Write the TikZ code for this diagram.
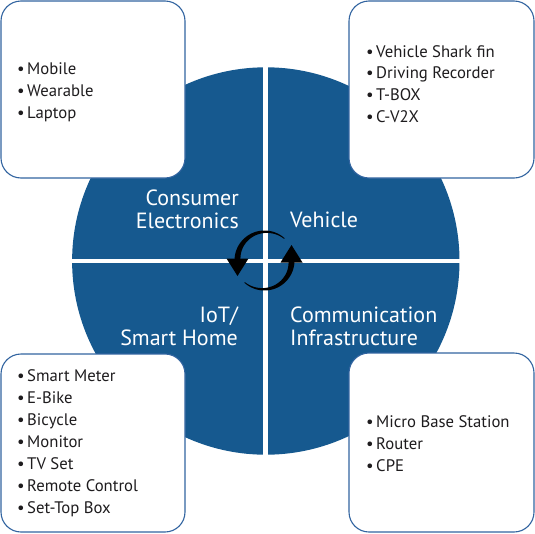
\documentclass[tikz,border=0pt]{standalone}
\usepackage{fontspec}
\setmainfont{PT Sans}
\definecolor{disc}{RGB}{22,89,143}
\definecolor{boxline}{RGB}{50,100,160}
\definecolor{txt}{RGB}{30,28,30}
\begin{document}
\begin{tikzpicture}[x=1pt,y=-1pt,
  card/.style={draw=boxline, line width=1.1pt, fill=white, rounded corners=20pt},
  item/.style={anchor=base west, inner sep=0pt, text=txt, font=\fontsize{16.7}{22}\selectfont},
  quadl/.style={anchor=base east, inner sep=0pt, text=white, font=\fontsize{22}{25}\selectfont},
  quadr/.style={anchor=base west, inner sep=0pt, text=white, font=\fontsize{22}{25}\selectfont},
  gap/.style={draw=white, line width=4.5pt}]
\useasboundingbox (0,0) rectangle (535,533);
% disc
\fill[disc] (265.8,261) circle[radius=193.7pt];
\draw[gap] (265.5,60) -- (265.5,462);
\draw[gap] (66,261) -- (466,261);
% rotation arrows
\foreach \r in {0,180}{
\begin{scope}[rotate around={\r:(264.5,260.5)}]
\fill[black] plot[domain=312:182, samples=40, variable=\a] ({264.5+30*cos(\a)}, {260.5+30*sin(\a)})
  -- plot[domain=182:312, samples=40, variable=\a] ({264.5+(29.2-5.2*(312-\a)/130)*cos(\a)}, {260.5+(29.2-5.2*(312-\a)/130)*sin(\a)}) -- cycle;
\fill[black] (226.5,258.5) -- (248.5,258.5) -- (237.5,276) -- cycle;
\end{scope}}
% quadrant labels
\node[quadl] (ce1) at (239,205) {Consumer};
\node[quadl] (ce2) at (239,228) {Electronics};
\node[quadr] (veh) at (290,227) {Vehicle};
\node[quadl] (io1) at (238,322) {IoT/};
\node[quadl] (io2) at (238,345) {Smart Home};
\node[quadr] (ci1) at (290,322) {Communication};
\node[quadr] (ci2) at (290,345) {Infrastructure};
% cards
\draw[card] (1,1) rectangle (185,178);
\draw[card] (349,1) rectangle (534,178);
\draw[card] (1,354) rectangle (185,532);
\draw[card] (349,353) rectangle (534,532);
% items
\foreach \t [count=\i] in {Mobile,Wearable,Laptop}
  \node[item] (tl\i) at (17,{74+22*(\i-1)}) {•\kern2.5pt\t};
\foreach \t [count=\i] in {Vehicle Shark fin,Driving Recorder,T-BOX,C-V2X}
  \node[item] (tr\i) at (366,{57+21.7*(\i-1)}) {•\kern2.5pt\t};
\foreach \t [count=\i] in {Smart Meter,E-Bike,Bicycle,Monitor,TV Set,Remote Control,Set-Top Box}
  \node[item] (bl\i) at (17,{381.7+21.9*(\i-1)}) {•\kern2.5pt\t};
\foreach \t [count=\i] in {Micro Base Station,Router,CPE}
  \node[item] (br\i) at (366,{427.7+22*(\i-1)}) {•\kern2.5pt\t};
\end{tikzpicture}
\end{document}
